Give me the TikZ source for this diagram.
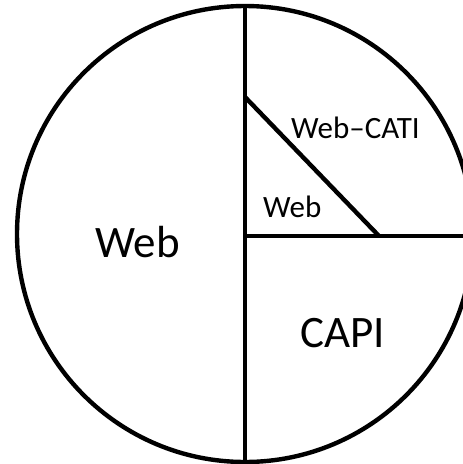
\documentclass[tikz,border=0pt]{standalone}
\usepackage{fontspec}
\setmainfont{Carlito}
\begin{document}
\begin{tikzpicture}[x=1pt,y=-1pt,
  seg/.style={line width=4.4pt},
  big/.style={font=\fontsize{45}{50}\selectfont, inner sep=0pt, anchor=base west},
  small/.style={font=\fontsize{31}{36}\selectfont, inner sep=0pt, anchor=base west}]
\useasboundingbox (0,0) rectangle (463,464);
\clip (0,0) rectangle (463,464);
\coordinate (c) at (245,234);
\coordinate (top) at (245,6);
\coordinate (bot) at (245,462);
\coordinate (mid) at (245,236);
\coordinate (dtop) at (245,97);
\coordinate (dbot) at (379,236);
\coordinate (right) at (475,236);
\draw[seg] (c) circle[radius=228];
\draw[seg] (top) -- (bot);
\draw[seg] (mid) -- (right);
\draw[seg] (dtop) -- (dbot);
\node[big] (web) at (95,257) {Web};
\node[big] (capi) at (300,347) {CAPI};
\node[small] (webs) at (263,217) {Web};
\node[small] (webcati) at (291,138) {Web–CATI};
\end{tikzpicture}
\end{document}
